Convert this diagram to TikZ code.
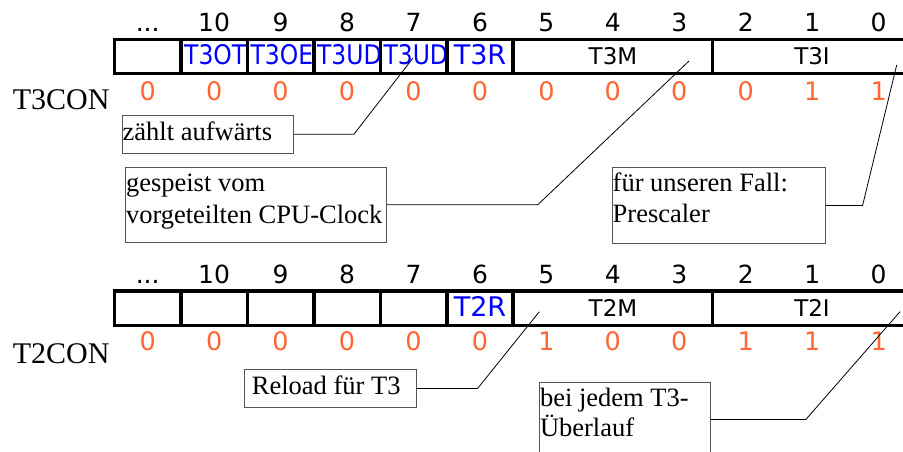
\documentclass[tikz,border=0pt]{standalone}
\usepackage{fontspec}
\setmainfont{Liberation Serif}
\newfontfamily\regsans{DejaVu Sans}
\newfontfamily\regsansn{DejaVu Sans}[FakeStretch=0.87]
\definecolor{valorange}{RGB}{255,102,51}
\definecolor{fieldblue}{RGB}{0,0,255}
\definecolor{framegray}{RGB}{85,85,85}
\tikzset{
  regline/.style={line width=3.5pt},
  bitnum/.style={font=\regsans\fontsize{25}{25}\selectfont, anchor=base, inner sep=0pt},
  bitval/.style={font=\regsans\fontsize{25.5}{25.5}\selectfont, text=valorange, anchor=base, inner sep=0pt},
  fieldwide/.style={font=\regsansn\fontsize{27}{27}\selectfont, text=fieldblue, anchor=base west, inner sep=0pt},
  fieldone/.style={font=\regsans\fontsize{27}{27}\selectfont, text=fieldblue, anchor=base, inner sep=0pt},
  fieldgroup/.style={font=\regsans\fontsize{23}{23}\selectfont, anchor=base, inner sep=0pt},
  regname/.style={font=\fontsize{30}{30}\selectfont, anchor=base west, inner sep=0pt},
  callout/.style={draw=framegray, line width=0.9pt, anchor=north west, inner sep=0pt},
  ctext/.style={font=\fontsize{26.5}{31}\selectfont, anchor=base west, inner sep=0pt},
  lead/.style={line width=0.8pt}
}
\begin{document}
\begin{tikzpicture}[x=1pt,y=-1pt]
\useasboundingbox (0,0) rectangle (903,452);
\clip (0,0) rectangle (903,452);

% register names
\node[regname] (t3con) at (12.7,109.3) {T3CON};
\node[regname] (t2con) at (12.7,363.3) {T2CON};

% ---------------- T3CON ----------------
\node[bitnum] (t3ndots) at (147.7,32) {...};
\foreach \k in {1,...,11} {
  \pgfmathtruncatemacro\bit{11-\k}
  \node[bitnum] (t3n\bit) at (114.5+66.45*\k+33.2,32) {\bit};
}
\foreach \v [count=\k from 0] in {0,0,0,0,0,0,0,0,0,0,1,1}
  \node[bitval] (t3v\k) at (114.5+66.45*\k+33.2,100) {\v};

% single-bit fields, clipped to their cells
\foreach \k/\txt in {1/T3OT,2/T3OE,3/T3UD,4/T3UD} {
  \begin{scope}
    \clip (114.5+66.45*\k+1.75,41) rectangle (114.5+66.45*\k+66.45-1.75,72);
    \node[fieldwide] (t3f\k) at (114.5+66.45*\k+3,64.5) {\txt};
  \end{scope}
}
\node[fieldone] (t3r) at (480,64.5) {T3R};
\node[fieldgroup] (t3m) at (613,65) {T3M};
\node[fieldgroup] (t3i) at (812,65) {T3I};

\draw[regline] (114.5,39.3) rectangle (911.9,73.7);
\foreach \k in {1,2,3,4,5,6,9}
  \draw[regline] (114.5+66.45*\k,39.3) -- (114.5+66.45*\k,73.7);

% ---------------- T2CON ----------------
\node[bitnum] (t2ndots) at (147.7,283.7) {...};
\foreach \k in {1,...,11} {
  \pgfmathtruncatemacro\bit{11-\k}
  \node[bitnum] (t2n\bit) at (114.5+66.45*\k+33.2,283.7) {\bit};
}
\foreach \v [count=\k from 0] in {0,0,0,0,0,0,1,0,0,1,1,1}
  \node[bitval] (t2v\k) at (114.5+66.45*\k+33.2,350.7) {\v};

\node[fieldone] (t2r) at (480,316.2) {T2R};
\node[fieldgroup] (t2m) at (613,316.7) {T2M};
\node[fieldgroup] (t2i) at (812,316.7) {T2I};

\draw[regline] (114.5,291) rectangle (911.9,325.4);
\foreach \k in {1,2,3,4,5,6,9}
  \draw[regline] (114.5+66.45*\k,291) -- (114.5+66.45*\k,325.4);

% ---------------- callouts ----------------
\node[callout, minimum width=171.3pt, minimum height=37.7pt] (c1) at (121.7,115) {};
\node[ctext] (c1a) at (122.5,140.7) {zählt aufwärts};

\node[callout, minimum width=261pt, minimum height=75pt] (c2) at (125,166.7) {};
\node[ctext] (c2a) at (125.8,191.7) {gespeist vom};
\node[ctext] (c2b) at (125.8,223.3) {vorgeteilten CPU-Clock};

\node[callout, minimum width=213.6pt, minimum height=76.6pt] (c3) at (611.7,166.7) {};
\node[ctext] (c3a) at (612.5,191.7) {für unseren Fall:};
\node[ctext] (c3b) at (612.5,222) {Prescaler};

\node[callout, minimum width=171.4pt, minimum height=37.4pt] (c4) at (244.3,369.3) {};
\node[ctext] (c4a) at (251.7,394) {Reload für T3};

\node[callout, minimum width=171pt, minimum height=74.6pt] (c5) at (539,381.7) {};
\node[ctext] (c5a) at (539.8,406.7) {bei jedem T3-};
\node[ctext] (c5b) at (539.8,436.7) {Überlauf};

% leader ends inside the registers
\coordinate (a1) at (413,58);
\coordinate (a2) at (689,61);
\coordinate (a3) at (896.7,65);
\coordinate (a4) at (539.3,311.7);
\coordinate (a5) at (900,311.7);

\draw[lead] (c1.east) -- ++(60,0) -- (a1);
\draw[lead] (c2.east) -- ++(151,0) -- (a2);
\draw[lead] (c3.east) -- ++(36.4,0) -- (a3);
\draw[lead] (c4.east) -- ++(61,0) -- (a4);
\draw[lead] (c5.east) -- ++(95,0) -- (a5);
\end{tikzpicture}
\end{document}
